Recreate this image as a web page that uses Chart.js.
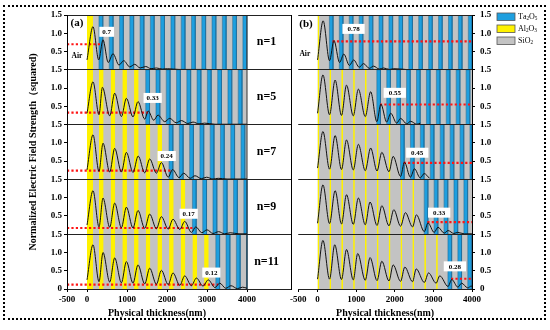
<!DOCTYPE html>
<html>
<head>
<meta charset="utf-8">
<script src="https://cdn.jsdelivr.net/npm/chart.js@4.4.1/dist/chart.umd.min.js"></script>
<style>
html, body { margin: 0; padding: 0; background: #fff; }
#wrap { position: relative; width: 550px; height: 330px; overflow: hidden; }
#frame { position: absolute; left: 3px; top: 5px; width: 539px; height: 311px; border: 2px dotted #000; }
#cA { position: absolute; left: 0; top: 0; }
#cB { position: absolute; left: 288px; top: 0; }
</style>
</head>
<body>
<div id="wrap">
  <div id="frame"></div>
  <canvas id="cA" width="292" height="330"></canvas>
  <canvas id="cB" width="262" height="330"></canvas>
</div>
<script>
// E-field (squared) through two HR coatings, n = number of Al2O3 pairs
const rowsN = [1, 5, 7, 9, 11];
const xTicks = [-500, 0, 1000, 2000, 3000, 4000];
const yTicks = [0, 0.5, 1.0, 1.5];
const materials = ['Ta2O5', 'Al2O3', 'SiO2'];
const markA = [0.7, 0.33, 0.24, 0.17, 0.12];
const markB = [0.78, 0.55, 0.45, 0.33, 0.28];

// layer design (nm)
const capA = [150, 150];        // top Al2O3, then SiO2
const slotA = [292, 115];       // Al2O3/SiO2 pair period, Al2O3
const slotB = [307, 45];        // Al2O3/SiO2 pair period, Al2O3
const taPair = [257, 95];       // Ta2O5/SiO2 pair period, Ta2O5
const stackEnd = 4000;

// field curves [nm, |E|^2]
const fieldA1 = [[0,0.27],[150,1.18],[293,0.27],[400,0.82],[530,0.2],[650,0.44],[800,0.13],[918,0.25],[1068,0.08],[1193,0.15],[1330,0.05],[1468,0.09],[1600,0.03],[1735,0.05],[1880,0.02],[2010,0.03],[2300,0.01],[3000,0.01]];
const fieldA2 = [[0,0.31],[150,1.17],[300,0.27],[385,1.02],[568,0.24],[692,0.86],[860,0.22],[985,0.72],[1150,0.21],[1275,0.63],[1443,0.15],[1530,0.37],[1668,0.12],[1775,0.26],[1943,0.08],[2068,0.17],[2230,0.05],[2360,0.11],[2520,0.03],[2650,0.07],[2800,0.02],[2940,0.04],[3200,0.01],[4000,0.01]];
const fieldA3 = [[0,0.26],[150,1.22],[300,0.22],[400,0.99],[568,0.2],[692,0.85],[860,0.2],[985,0.74],[1150,0.19],[1280,0.64],[1443,0.18],[1568,0.56],[1735,0.17],[1860,0.46],[2030,0.06],[2140,0.27],[2300,0.05],[2418,0.17],[2580,0.03],[2700,0.1],[2860,0.02],[2990,0.06],[3150,0.01],[3280,0.03],[3500,0.01],[4000,0.01]];
const fieldA4 = [[0,0.25],[150,1.19],[300,0.2],[400,0.99],[568,0.19],[692,0.85],[860,0.18],[985,0.74],[1150,0.17],[1275,0.65],[1443,0.16],[1568,0.55],[1735,0.15],[1860,0.48],[2030,0.14],[2150,0.41],[2320,0.13],[2443,0.35],[2610,0.05],[2720,0.2],[2870,0.04],[3000,0.12],[3150,0.02],[3290,0.07],[3440,0.01],[3580,0.04],[3800,0.01],[4000,0.01]];
const fieldA5 = [[0,0.25],[150,1.21],[300,0.2],[400,1.0],[568,0.19],[692,0.85],[860,0.17],[985,0.75],[1150,0.16],[1275,0.66],[1443,0.14],[1568,0.57],[1735,0.13],[1860,0.51],[2030,0.12],[2150,0.44],[2320,0.1],[2443,0.36],[2610,0.09],[2735,0.3],[2900,0.08],[3030,0.25],[3200,0.04],[3318,0.16],[3470,0.02],[3600,0.09],[3760,0.01],[3890,0.05],[4000,0.02]];
const fieldB1 = [[0,0.27],[145,1.34],[310,0.25],[425,0.8],[570,0.2],[680,0.43],[825,0.12],[935,0.27],[1080,0.07],[1190,0.17],[1340,0.04],[1450,0.1],[1600,0.02],[1710,0.05],[1860,0.01],[1970,0.03],[2280,0.01]];
const fieldB2 = [[0,0.31],[140,1.36],[310,0.27],[455,1.22],[620,0.25],[750,1.08],[925,0.24],[1057,0.97],[1235,0.22],[1375,0.9],[1535,0.08],[1640,0.56],[1790,0.07],[1895,0.31],[2050,0.04],[2150,0.17],[2310,0.02],[2410,0.09],[2570,0.01],[2660,0.04]];
const fieldB3 = [[0,0.31],[140,1.31],[310,0.28],[455,1.2],[620,0.27],[750,1.08],[925,0.26],[1057,0.96],[1235,0.24],[1375,0.86],[1540,0.23],[1665,0.74],[1850,0.21],[1958,0.63],[2150,0.08],[2250,0.47],[2405,0.06],[2510,0.29],[2660,0.04],[2760,0.16],[2900,0.03]];
const fieldB4 = [[0,0.3],[140,1.35],[310,0.29],[455,1.19],[620,0.28],[750,1.08],[925,0.27],[1057,0.99],[1235,0.26],[1360,0.88],[1540,0.24],[1665,0.78],[1850,0.23],[1975,0.67],[2150,0.22],[2275,0.59],[2460,0.2],[2560,0.53],[2765,0.07],[2860,0.31],[3020,0.05],[3120,0.19],[3280,0.03],[3380,0.1],[3530,0.02],[3630,0.05],[3800,0.01],[4000,0.01]];
const fieldB5 = [[0,0.27],[140,1.33],[310,0.27],[445,1.21],[620,0.26],[750,1.08],[925,0.25],[1040,0.97],[1235,0.24],[1360,0.86],[1540,0.23],[1665,0.76],[1850,0.22],[1958,0.66],[2150,0.21],[2260,0.6],[2460,0.2],[2555,0.55],[2765,0.18],[2875,0.44],[3070,0.16],[3165,0.36],[3380,0.07],[3475,0.26],[3635,0.05],[3730,0.16],[3890,0.03],[3980,0.08],[4000,0.07]];

const colTa = '#1e9fdf', colAl = '#fff200', colSi = '#c3c3c3';
const serif = '"Liberation Serif", "Times New Roman", serif';

function taLayers(start) {
  const ta = [];
  for (let s = start; s < stackEnd; s += taPair[0]) ta.push([s, Math.min(s + taPair[1], stackEnd)]);
  return ta;
}

function layersA(n) {
  const al = [[0, capA[0]]];
  for (let k = 0; k < n - 1; k++) {
    const s = capA[0] + capA[1] + k * slotA[0];
    al.push([s, s + slotA[1]]);
  }
  const taStart = capA[0] + capA[1] + (n - 1) * slotA[0];
  return { al, ta: taLayers(taStart), taStart };
}

function layersB(n) {
  const al = [];
  for (let k = 0; k < n; k++) al.push([k * slotB[0], k * slotB[0] + slotB[1]]);
  const taStart = n * slotB[0];
  return { al, ta: taLayers(taStart), taStart };
}

// one filled rectangle per layer, full row height
function bands(spans, bottom, color, edge, order) {
  const pts = [];
  spans.forEach(([a, b]) => {
    pts.push({x: a, y: bottom}, {x: a, y: bottom + 1.5}, {x: b, y: bottom + 1.5}, {x: b, y: bottom}, {x: b, y: null});
  });
  return {
    data: pts, backgroundColor: color, borderColor: edge || color,
    borderWidth: edge ? 0.6 : 0, fill: {value: bottom}, order: order
  };
}

const panelA = {
  fields: [fieldA1, fieldA2, fieldA3, fieldA4, fieldA5], marks: markA, layers: layersA, endLine: true,
  red: t => [-500, t + 60], xMax: 5100, letter: '(a)', letterAt: [-250, 1.27], airAt: [-250, 0.38],
  boxAt: [[492, 1.04], [1642, 0.73], [1992, 0.64], [2542, 0.56], [3110, 0.45]], boxPad: 3
};
const panelB = {
  fields: [fieldB1, fieldB2, fieldB3, fieldB4, fieldB5], marks: markB, layers: layersB, endLine: false,
  red: t => [t + 80, 4000], xMax: 4000, letter: '(b)', letterAt: [-300, 1.25], airAt: [-330, 0.43],
  boxAt: [[932, 1.12], [2000, 0.87], [2582, 0.73], [3150, 0.59], [3557, 0.62]], boxPad: 5
};

function rowSets(p) {
  const sets = [];
  rowsN.forEach((n, r) => {
    const off = (4 - r) * 1.5;
    const lay = p.layers(n);
    sets.push(bands([[0, stackEnd]], off, colSi, null, 3));
    sets.push(bands(lay.al, off, colAl, null, 2));
    sets.push(bands(lay.ta, off, colTa, '#1a6c9c', 2));
    if (p.endLine) {
      sets.push({data: [{x: stackEnd, y: off}, {x: stackEnd, y: off + 1.5}], borderColor: '#333', borderWidth: 1, order: 1});
    }
    const v = p.marks[r] + off;
    sets.push({data: p.red(lay.taStart).map(x => ({x, y: v})), borderColor: '#ff1414', borderWidth: 2.2, borderDash: [2.2, 2.2], order: 1});
    sets.push({data: p.fields[r].map(([x, y]) => ({x, y: y + off})), borderColor: '#111', borderWidth: 1,
      cubicInterpolationMode: 'monotone', order: 0});
  });
  return sets;
}

function chemText(ctx, s, x, y, size) {
  let cx = x;
  for (const ch of s) {
    const sub = /\d/.test(ch);
    ctx.font = (sub ? size * 0.65 : size) + 'px ' + serif;
    ctx.fillText(ch, cx, y + (sub ? size * 0.28 : 0));
    cx += ctx.measureText(ch).width;
  }
}

function textPlugin(p, isA) {
  return {
    id: 'panelText',
    afterDraw(chart) {
      const {ctx, chartArea} = chart;
      const xs = chart.scales.x, ys = chart.scales.y;
      const px = v => xs.getPixelForValue(v), py = v => ys.getPixelForValue(v);
      ctx.save();
      ctx.fillStyle = '#000';
      ctx.textAlign = 'center';
      ctx.textBaseline = 'middle';
      ctx.font = 'bold 11px ' + serif;
      ctx.fillText(p.letter, px(p.letterAt[0]), py(p.letterAt[1] + 6));
      ctx.font = 'bold 7.5px ' + serif;
      ctx.fillText('Air', px(p.airAt[0]), py(p.airAt[1] + 6));
      // value boxes
      ctx.font = 'bold 7px ' + serif;
      p.marks.forEach((v, r) => {
        const [bx, by] = p.boxAt[r];
        const cx = px(bx), cy = py(by + (4 - r) * 1.5);
        const w = ctx.measureText(String(v)).width + 2 * p.boxPad;
        ctx.fillStyle = '#fff';
        ctx.fillRect(cx - w / 2, cy - 5, w, 10);
        ctx.fillStyle = '#000';
        ctx.fillText(String(v), cx, cy + 0.5);
      });
      if (isA) {
        ctx.font = 'bold 12px ' + serif;
        rowsN.forEach((n, r) => ctx.fillText('n=' + n, px(4490), py(0.75 + (4 - r) * 1.5)));
      }
      ctx.font = 'bold 10px ' + serif;
      ctx.fillText('Physical thickness(nm)', px(1750), chartArea.bottom + 24);
      if (!isA) {
        // legend
        const colors = [colTa, colAl, colSi];
        ctx.textAlign = 'left';
        materials.forEach((m, i) => {
          const top = 13 + i * 12;
          ctx.fillStyle = colors[i];
          ctx.fillRect(209, top, 18, 7.5);
          ctx.strokeStyle = '#555';
          ctx.lineWidth = 0.8;
          ctx.strokeRect(209, top, 18, 7.5);
          ctx.fillStyle = '#000';
          chemText(ctx, m, 230, top + 3.5, 8);
        });
      }
      ctx.restore();
    }
  };
}

const tickFont = {family: serif, size: 9, weight: 'bold'};

function yLabel(v) {
  const k = Math.round(v * 2);
  if (k === 0) return '0';
  const m = k % 3;
  return (m === 0 ? yTicks[3] : yTicks[m]).toFixed(1);
}

function makeChart(id, p, isA) {
  const scales = {
    x: {
      type: 'linear', min: -500, max: p.xMax,
      afterBuildTicks: s => { s.ticks = xTicks.map(v => ({value: v})); },
      afterFit: s => { s.height = 41; },
      ticks: {font: tickFont, color: '#000', padding: 2, maxRotation: 0, autoSkip: false, callback: v => String(v)},
      grid: {drawOnChartArea: false, tickLength: 3, tickColor: '#000', z: 1},
      border: {color: '#000', width: 1, z: 1}
    },
    y: {
      position: isA ? 'left' : 'right', min: 0, max: 7.5,
      afterFit: s => { s.width = isA ? 67 : 22; },
      ticks: {stepSize: 0.5, font: tickFont, color: '#000', padding: isA ? 2 : 5, autoSkip: false, callback: yLabel},
      grid: {
        color: c => (Math.round(c.tick.value * 2) % 3 === 0 ? '#222' : 'rgba(0,0,0,0)'),
        lineWidth: 1, tickLength: 3, tickColor: '#000', z: 1
      },
      border: {color: '#000', width: 1, z: 1},
      title: {
        display: isA, text: 'Normalized Electric Field Strength（squared)',
        font: {family: serif, size: 10, weight: 'bold'}, color: '#000', padding: {top: 27, bottom: 0}
      }
    }
  };
  if (isA) {
    scales.y2 = {
      position: 'right', min: 0, max: 7.5,
      afterFit: s => { s.width = 0; },
      ticks: {display: false},
      grid: {drawOnChartArea: false, drawTicks: false},
      border: {color: '#000', width: 1, z: 1}
    };
  }
  return new Chart(document.getElementById(id), {
    type: 'line',
    data: {datasets: rowSets(p)},
    options: {
      responsive: false,
      animation: false,
      events: [],
      layout: {padding: isA ? {left: 0, right: 1, top: 15, bottom: 0} : {left: 3, right: 56, top: 15, bottom: 0}},
      elements: {point: {radius: 0}, line: {tension: 0}},
      plugins: {legend: {display: false}, tooltip: {enabled: false}},
      scales: scales
    },
    plugins: [textPlugin(p, isA)]
  });
}

makeChart('cA', panelA, true);
makeChart('cB', panelB, false);
</script>
</body>
</html>
